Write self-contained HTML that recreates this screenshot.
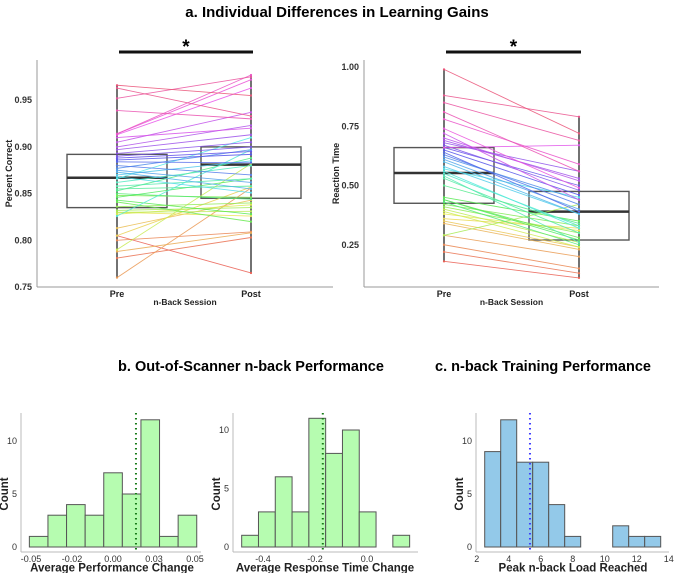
<!DOCTYPE html>
<html><head><meta charset="utf-8"><style>
body{margin:0;background:#fff}
svg{display:block;font-family:"Liberation Sans",Arial,sans-serif}
</style></head><body>
<svg id="fig" width="674" height="573" viewBox="0 0 674 573">
<text x="337" y="17" text-anchor="middle" font-size="15" font-weight="bold">a. Individual Differences in Learning Gains</text>
<text x="251" y="371" text-anchor="middle" font-size="14.5" font-weight="bold">b. Out-of-Scanner n-back Performance</text>
<text x="543" y="371" text-anchor="middle" font-size="14.5" font-weight="bold">c. n-back Training Performance</text>
<g id="gA1"></g>
<g id="gA2"></g>
<g id="gB1"></g>
<g id="gB2"></g>
<g id="gC"></g>
</svg>
<script>
// Panel a-left: percent correct (pre, post), ordered low->high for colour
const pcPre  = [0.805,0.781,0.800,0.760,0.788,0.813,0.805,0.830,0.828,0.790,0.830,0.832,0.836,0.848,0.841,0.843,0.846,0.850,0.853,0.855,0.858,0.862,0.826,0.866,0.868,0.870,0.873,0.875,0.877,0.880,0.884,0.886,0.888,0.890,0.893,0.897,0.900,0.905,0.910,0.913,0.914,0.914,0.939,0.952,0.963,0.966];
const pcPost = [0.765,0.803,0.809,0.856,0.808,0.843,0.857,0.826,0.838,0.882,0.831,0.835,0.840,0.846,0.820,0.828,0.866,0.844,0.888,0.858,0.866,0.880,0.897,0.910,0.851,0.885,0.855,0.862,0.897,0.870,0.883,0.892,0.895,0.900,0.905,0.913,0.923,0.937,0.920,0.963,0.972,0.977,0.930,0.975,0.933,0.955];
const pcTicks = [0.75,0.80,0.85,0.90,0.95];
const pcBoxPre = [0.835,0.867,0.892], pcBoxPost = [0.845,0.881,0.900];
// Panel a-right: reaction time
const rtPre  = [0.18,0.22,0.25,0.29,0.34,0.35,0.36,0.38,0.39,0.40,0.29,0.41,0.42,0.44,0.45,0.44,0.43,0.50,0.53,0.54,0.55,0.56,0.57,0.58,0.60,0.61,0.62,0.63,0.64,0.65,0.66,0.67,0.68,0.69,0.70,0.72,0.66,0.74,0.78,0.81,0.85,0.88,0.99];
const rtPost = [0.11,0.13,0.15,0.20,0.23,0.24,0.32,0.31,0.24,0.26,0.42,0.30,0.33,0.28,0.35,0.27,0.25,0.34,0.30,0.26,0.33,0.32,0.45,0.38,0.38,0.40,0.44,0.42,0.39,0.46,0.50,0.48,0.56,0.53,0.52,0.44,0.67,0.49,0.59,0.56,0.69,0.79,0.72];
const rtTicks = [0.25,0.50,0.75,1.00];
const rtBoxPre = [0.425,0.553,0.66], rtBoxPost = [0.27,0.39,0.475];
// Histograms
const h1Counts = [1,3,4,3,7,5,12,1,3];
const h1Start = -0.051, h1Width = 0.01134, h1Mean = 0.014;
const h1Ticks = [-0.05,-0.025,0,0.025,0.05], h1Labels = ["-0.05","-0.02","0.00","0.03","0.05"];
const h2Counts = [1,3,6,3,11,8,10,3,0,1];
const h2Start = -0.482, h2Width = 0.0646, h2Mean = -0.17;
const h2Ticks = [-0.4,-0.2,0.0], h2Labels = ["-0.4","-0.2","0.0"];
const h3Counts = [9,12,8,8,4,1,0,0,2,1,1];
const h3Start = 2.5, h3Width = 1, h3Mean = 5.33;
const h3Ticks = [2,4,6,8,10,12,14], h3Labels = ["2","4","6","8","10","12","14"];
const countTicks = [0,5,10];

const NS="http://www.w3.org/2000/svg";
function mk(parent,tag,attrs,text){const e=document.createElementNS(NS,tag);for(const k in attrs)e.setAttribute(k,attrs[k]);if(text!==undefined)e.textContent=text;parent.appendChild(e);return e;}

function pairPanel(g,pre,post,ticks,boxPre,boxPost,o){
  const y=v=>o.y0+(v-o.v0)*o.k;
  let e=mk(g,'line',{x1:o.ax,y1:o.top,x2:o.ax,y2:287,stroke:'#999','stroke-width':1});
  
  e=mk(g,'line',{x1:o.ax,y1:287,x2:o.right,y2:287,stroke:'#999','stroke-width':1});
  
  ticks.forEach(t=>{e=mk(g,'text',{x:o.ax-5,y:y(t)+3,'text-anchor':'end','font-size':9,'font-weight':'bold',fill:'#333'},t.toFixed(2));
    });
  [['Pre',o.xPre],['Post',o.xPost]].forEach(([l,x])=>{e=mk(g,'text',{x:x,y:297,'text-anchor':'middle','font-size':9,'font-weight':'bold',fill:'#222'},l);
    });
  e=mk(g,'text',{x:(o.ax+o.right)/2,y:305,'text-anchor':'middle','font-size':8.5,'font-weight':'bold',fill:'#222'},'n-Back Session');
  
  e=mk(g,'text',{transform:`translate(${o.ax-25},${(o.top+287)/2}) rotate(-90)`,'text-anchor':'middle','font-size':9,'font-weight':'bold',fill:'#222'},o.title);
  
  [[boxPre,o.xPre-50],[boxPost,o.xPost-50]].forEach(([b,x],i)=>{
    e=mk(g,'rect',{x:x,y:y(b[2]),width:100,height:y(b[0])-y(b[2]),fill:'none',stroke:'#555','stroke-width':1.4});
    
    e=mk(g,'line',{x1:x,x2:x+100,y1:y(b[1]),y2:y(b[1]),stroke:'#333','stroke-width':2.5});
    
  });
  [[pre,o.xPre],[post,o.xPost]].forEach(([a,x],i)=>{
    e=mk(g,'line',{x1:x,x2:x,y1:y(Math.max(...a)),y2:y(Math.min(...a)),stroke:'#444','stroke-width':1.5});
    
  });
  const n=pre.length;
  pre.forEach((p,i)=>{
    const c=`hsl(${(5+340*i/(n-1))%360},78%,62%)`;
    e=mk(g,'line',{x1:o.xPre,y1:y(p),x2:o.xPost,y2:y(post[i]),stroke:c,'stroke-width':0.9,opacity:0.85});
    
    e=mk(g,'circle',{cx:o.xPre,cy:y(p),r:1.1,fill:c});
    
    e=mk(g,'circle',{cx:o.xPost,cy:y(post[i]),r:1.1,fill:c});
    
  });
  e=mk(g,'line',{x1:o.xPre+2,x2:o.xPost+2,y1:52,y2:52,stroke:'#111','stroke-width':3});
  
  e=mk(g,'text',{x:(o.xPre+o.xPost)/2+2,y:53,'text-anchor':'middle','font-size':19,'font-weight':'bold'},'*');
  
}
pairPanel(document.getElementById('gA1'),pcPre,pcPost,pcTicks,pcBoxPre,pcBoxPost,
  {ax:37,right:333,top:60,xPre:117,xPost:251,y0:287,v0:0.75,k:-934,title:'Percent Correct'});
pairPanel(document.getElementById('gA2'),rtPre,rtPost,rtTicks,rtBoxPre,rtBoxPost,
  {ax:364,right:659,top:60,xPre:444,xPost:579,y0:304,v0:0,k:-237,title:'Reaction Time'});

function hist(g,counts,start,width,mean,ticks,labels,o){
  const x=v=>o.x0+(v-o.v0)*o.kx, y=c=>547-c*o.ky;
  let e=mk(g,'line',{x1:o.ax,y1:413,x2:o.ax,y2:552,stroke:'#bbb','stroke-width':1});
  
  e=mk(g,'line',{x1:o.ax,y1:552,x2:o.right,y2:552,stroke:'#bbb','stroke-width':1});
  
  countTicks.forEach(t=>{e=mk(g,'text',{x:o.ax-4,y:y(t)+3,'text-anchor':'end','font-size':9,fill:'#333'},String(t));
    });
  ticks.forEach((t,i)=>{e=mk(g,'text',{x:x(t),y:562,'text-anchor':'middle','font-size':9,fill:'#333'},labels[i]);
    });
  counts.forEach((c,i)=>{ if(!c) return;
    e=mk(g,'rect',{x:x(start+i*width),y:y(c),width:x(start+(i+1)*width)-x(start+i*width),height:y(0)-y(c),fill:o.fill,stroke:'#555','stroke-width':1});
    });
  e=mk(g,'line',{x1:x(mean),x2:x(mean),y1:413,y2:553,stroke:o.dot,'stroke-width':2,'stroke-dasharray':'1.5,3.5'});
  
  e=mk(g,'text',{x:o.tx,y:571.5,'text-anchor':'middle','font-size':11.5,'font-weight':'bold',fill:'#222'},o.title);
  
  e=mk(g,'text',{transform:`translate(${o.ax-13},494) rotate(-90)`,'text-anchor':'middle','font-size':11.5,'font-weight':'bold',fill:'#222'},'Count');
  
}
hist(document.getElementById('gB1'),h1Counts,h1Start,h1Width,h1Mean,h1Ticks,h1Labels,
  {ax:21,right:201,x0:113,v0:0,kx:1640,ky:10.6,fill:'#b6fcb0',dot:'#167a16',tx:112,title:'Average Performance Change'});
hist(document.getElementById('gB2'),h2Counts,h2Start,h2Width,h2Mean,h2Ticks,h2Labels,
  {ax:233,right:418,x0:367,v0:0,kx:260,ky:11.7,fill:'#b6fcb0',dot:'#167a16',tx:325,title:'Average Response Time Change'});
hist(document.getElementById('gC'),h3Counts,h3Start,h3Width,h3Mean,h3Ticks,h3Labels,
  {ax:476,right:669,x0:476.7,v0:2,kx:16.0,ky:10.6,fill:'#93c9e9',dot:'#3a3aff',tx:573,title:'Peak n-back Load Reached'});
</script>
</body></html>
